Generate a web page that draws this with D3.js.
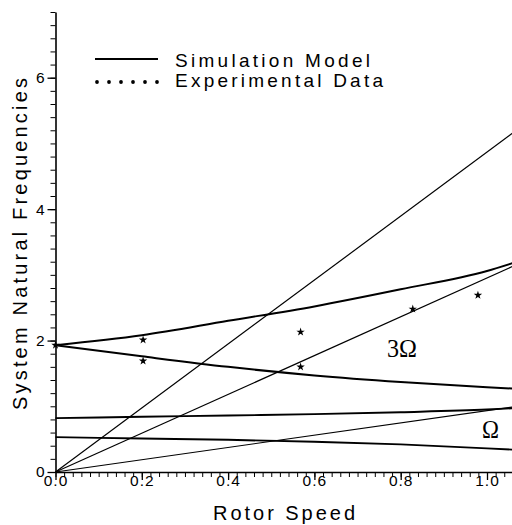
<!DOCTYPE html>
<html><head><meta charset="utf-8">
<script src="https://cdn.jsdelivr.net/npm/d3@7"></script>
<style>html,body{margin:0;padding:0;background:#fff;}svg{display:block;}</style>
</head><body>
<svg id="chart" width="512" height="525"></svg>
<script>
// ---- data ----
const xGrid = [0, 0.2, 0.4, 0.6, 0.8, 1.0, 1.06];
const upperMode = [1.93, 2.08, 2.30, 2.52, 2.78, 3.06, 3.18];
const lowerMode = [1.93, 1.76, 1.60, 1.47, 1.37, 1.29, 1.27];
const upperFlat = [0.82, 0.84, 0.86, 0.88, 0.91, 0.95, 0.97];
const lowerFlat = [0.53, 0.51, 0.49, 0.46, 0.42, 0.36, 0.34];
const orderX = [0, 1.06];
const omega1 = [0, 0.99];
const omega3 = [0, 3.13];
const omega5 = [0, 5.16];
const expX = [0, 0.203, 0.203, 0.568, 0.568, 0.828, 0.979];
const expY = [1.93, 2.01, 1.69, 2.13, 1.60, 2.48, 2.69];
const xTickLabels = ["0.0", "0.2", "0.4", "0.6", "0.8", "1.0"];
const yTickLabels = ["0", "2", "4", "6"];
const legendLabels = ["Simulation Model", "Experimental Data"];

// ---- scales ----
const svg = d3.select("#chart");
const x = d3.scaleLinear().domain([0, 1.06]).range([55.5, 55.5 + 1.06 * 431.5]);
const y = d3.scaleLinear().domain([0, 7]).range([472, 12]);
const sans = "'Liberation Sans', Arial, sans-serif";

// ---- axes ----
const xMinor = d3.range(0, 1.061, 0.02);
svg.append("g").attr("transform", `translate(0,${y(0)})`)
  .call(d3.axisBottom(x).tickValues(xMinor).tickSize(5).tickSizeOuter(0).tickFormat(""))
  .call(g => g.select(".domain").attr("stroke-width", 1.6));
svg.append("g").attr("transform", `translate(0,${y(0)})`)
  .call(d3.axisBottom(x).tickValues(xTickLabels.map(Number)).tickSize(8).tickSizeOuter(0)
    .tickFormat((d, i) => xTickLabels[i]))
  .call(g => g.select(".domain").remove())
  .call(g => g.selectAll("line").attr("stroke-width", 1.3))
  .call(g => g.selectAll("text").attr("font-family", sans).attr("font-size", 15.5)
    .attr("fill", "#000").attr("dy", "0.2em").attr("letter-spacing", 1));

const yMinor = d3.range(0, 7.001, 0.2);
svg.append("g").attr("transform", `translate(${x(0)},0)`)
  .call(d3.axisLeft(y).tickValues(yMinor).tickSize(5).tickSizeOuter(0).tickFormat(""))
  .call(g => g.select(".domain").attr("stroke-width", 1.6));
svg.append("g").attr("transform", `translate(${x(0)},0)`)
  .call(d3.axisLeft(y).tickValues(yTickLabels.map(Number)).tickSize(8).tickSizeOuter(0)
    .tickFormat((d, i) => yTickLabels[i]))
  .call(g => g.select(".domain").remove())
  .call(g => g.selectAll("line").attr("stroke-width", 1.3))
  .call(g => g.selectAll("text").attr("font-family", sans).attr("font-size", 15.5)
    .attr("fill", "#000").attr("x", -11));

// ---- lines ----
const line = d3.line().x(d => x(d[0])).y(d => y(d[1]));
const curve = d3.line().x(d => x(d[0])).y(d => y(d[1])).curve(d3.curveMonotoneX);
const zip = (xs, ys) => xs.map((v, i) => [v, ys[i]]);

[[upperMode, 2], [lowerMode, 2], [upperFlat, 1.9], [lowerFlat, 1.9]].forEach(([ys, w]) => {
  svg.append("path").attr("d", curve(zip(xGrid, ys)))
    .attr("fill", "none").attr("stroke", "#000").attr("stroke-width", w);
});
[omega1, omega3, omega5].forEach(ys => {
  svg.append("path").attr("d", line(zip(orderX, ys)))
    .attr("fill", "none").attr("stroke", "#000").attr("stroke-width", 1.2);
});

// ---- experimental points ----
const star = d3.symbol().type(d3.symbolStar).size(22);
svg.selectAll(".pt").data(zip(expX, expY)).join("path")
  .attr("transform", d => `translate(${x(d[0])},${y(d[1])})`)
  .attr("d", star).attr("fill", "#000");

// ---- labels in plot ----
const serif = "'Liberation Serif', 'Times New Roman', serif";
svg.append("text").attr("x", 387).attr("y", 357).attr("font-family", serif)
  .attr("font-size", 25).attr("textLength", 30).attr("lengthAdjust", "spacingAndGlyphs").text("3Ω");
svg.append("text").attr("x", 482).attr("y", 438).attr("font-family", serif)
  .attr("font-size", 25).attr("textLength", 17).attr("lengthAdjust", "spacingAndGlyphs").text("Ω");

// ---- legend ----
svg.append("line").attr("x1", 95).attr("x2", 158).attr("y1", 59).attr("y2", 59)
  .attr("stroke", "#000").attr("stroke-width", 2);
svg.selectAll(".ldot").data(d3.range(6)).join("circle")
  .attr("cx", d => 97 + d * 12).attr("cy", 82).attr("r", 1.9).attr("fill", "#000");
svg.append("text").attr("x", 175).attr("y", 67).attr("font-family", sans).attr("font-size", 19)
  .attr("textLength", 195).attr("lengthAdjust", "spacing").text(legendLabels[0]);
svg.append("text").attr("x", 175).attr("y", 87).attr("font-family", sans).attr("font-size", 19)
  .attr("textLength", 208).attr("lengthAdjust", "spacing").text(legendLabels[1]);

// ---- axis titles ----
svg.append("text").attr("x", 213).attr("y", 520).attr("font-family", sans).attr("font-size", 20)
  .attr("textLength", 142).attr("lengthAdjust", "spacing").text("Rotor Speed");
svg.append("text").attr("transform", "translate(27,410) rotate(-90)")
  .attr("font-family", sans).attr("font-size", 20)
  .attr("textLength", 332).attr("lengthAdjust", "spacing").text("System Natural Frequencies");
</script>
</body></html>
